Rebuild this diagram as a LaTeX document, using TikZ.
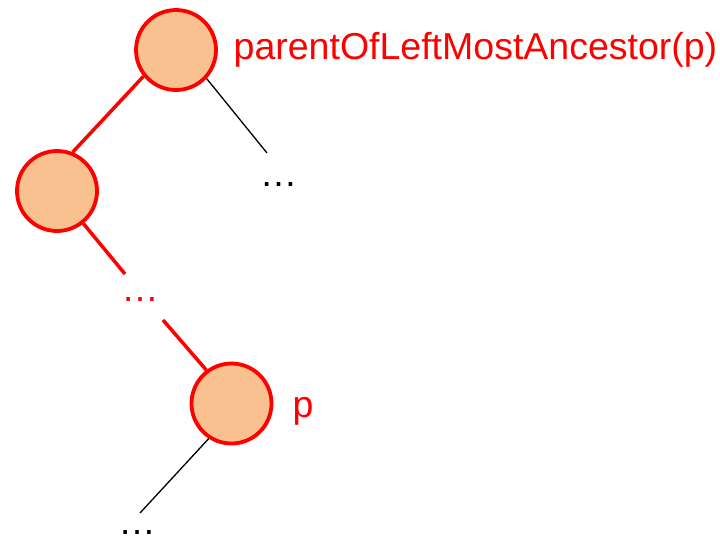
\documentclass[tikz,border=0pt]{standalone}
\usepackage{fontspec}
\setmainfont{Liberation Sans}
\usepackage{tikz}
\definecolor{ptred}{HTML}{FF0000}
\definecolor{ptpeach}{HTML}{F9C090}
\tikzstyle{vertex} = [draw=ptred, fill=ptpeach, shape=circle, minimum size=80pt, inner sep=0pt, line width=3.8pt]
\tikzstyle{lbl} = [inner sep=0pt, font=\fontsize{37.5}{40}\selectfont]
\tikzstyle{redge} = [draw=ptred, line width=3.5pt]
\tikzstyle{bedge} = [draw=black, line width=1.3pt]

\begin{document}
\begin{tikzpicture}[x=1pt,y=-1pt]
    \useasboundingbox (0,0) rectangle (720,539);
    \draw (176,50) node[vertex] (top) {};
    \draw (57,191) node[vertex] (left) {};
    \draw (231.5,403.5) node[vertex] (p) {};
    \node[lbl, text=ptred, anchor=base west] (toplbl) at (233.5,59.5) {parentOfLeftMostAncestor(p)};
    \node[lbl, text=ptred, anchor=base west] (plbl) at (292.5,417) {p};
    \node[lbl, anchor=base] (rdots) at (278.5,186) {…};
    \node[lbl, text=ptred, anchor=base] (mdots) at (140,301) {…};
    \node[lbl, anchor=base] (bdots) at (137,534) {…};
    \coordinate (rend) at (267,153);
    \coordinate (min) at (125,274);
    \coordinate (mout) at (163,320);
    \coordinate (bend) at (140,513);
    \draw[redge] (top.-141) -- (left.68);
    \draw[bedge] (top.-43) -- (rend);
    \draw[redge] (left.-51) -- (min);
    \draw[redge] (mout) -- (p.127);
    \draw[bedge] (p.-123.5) -- (bend);
\end{tikzpicture}
\end{document}
